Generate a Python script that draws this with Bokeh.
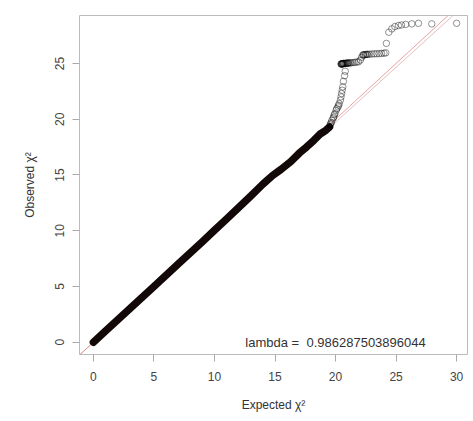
from bokeh.plotting import figure
from bokeh.models import Range1d, FixedTicker, Slope
from bokeh.embed import file_html
from bokeh.resources import INLINE

# ---- data ----
lambda_value = 0.986287503896044

# dense body of the QQ curve (expected, observed)
body_expected = [0.0, 1.0, 3.0, 5.0, 7.0, 9.0, 10.0, 11.0, 12.0, 13.0, 14.0,
                 14.8, 15.5, 16.3, 17.0, 17.6, 18.2, 18.7, 19.2, 19.5]
body_observed = [0.0, 1.0, 3.0, 5.0, 7.02, 9.02, 10.05, 11.05, 12.08, 13.12, 14.18,
                 14.95, 15.5, 16.2, 16.95, 17.5, 18.1, 18.65, 19.0, 19.3]

# individual points in the upper tail
tail_expected = [19.55, 19.6, 19.65, 19.7, 19.8, 19.85, 19.9, 19.95, 20.05, 20.1, 20.2,
                 20.25, 20.3, 20.4, 20.45, 20.5, 20.55, 20.6, 20.65, 20.75, 20.8,
                 20.45, 20.48, 20.5, 20.52, 20.55, 20.58, 20.6, 20.63, 20.65, 20.7,
                 20.75, 20.8, 20.85, 20.9, 20.95, 21.0, 21.05, 21.1,
                 21.2, 21.3, 21.45, 21.6, 21.75, 21.9, 22.05, 22.15,
                 22.25, 22.3, 22.35, 22.45, 22.5, 22.6, 22.65, 22.8, 23.0, 23.2,
                 23.4, 23.6, 23.8, 24.0, 24.15,
                 24.2, 24.4, 24.65, 24.9, 25.2, 25.45, 25.8, 26.3, 26.85, 27.95, 30.0]
tail_observed = [19.5, 19.6, 19.7, 19.9, 20.1, 20.2, 20.4, 20.5, 20.8, 20.95, 21.1,
                 21.25, 21.4, 21.7, 22.0, 22.3, 22.6, 22.9, 23.4, 23.9, 24.3,
                 24.95, 24.95, 24.95, 24.96, 24.97, 24.97, 24.98, 24.99, 25.0, 25.0,
                 25.0, 25.0, 25.01, 25.02, 25.02, 25.03, 25.04, 25.05,
                 25.05, 25.06, 25.08, 25.1, 25.12, 25.15, 25.3, 25.55,
                 25.75, 25.76, 25.78, 25.79, 25.8, 25.81, 25.82, 25.83, 25.85, 25.86,
                 25.87, 25.88, 25.9, 25.92, 25.95,
                 26.8, 27.8, 28.1, 28.3, 28.4, 28.45, 28.5, 28.55, 28.6, 28.55, 28.6]

x_ticks = [0, 5, 10, 15, 20, 25, 30]
y_ticks = [0, 5, 10, 15, 20, 25]

FONT = "Liberation Sans"

p = figure(width=473, height=420, output_backend="svg", toolbar_location=None,
           x_range=Range1d(-1.15, 30.9), y_range=Range1d(-1.1, 29.3),
           min_border_left=79, min_border_right=6, min_border_top=15,
           min_border_bottom=66)

p.grid.visible = False
p.outline_line_color = "#bbbbbb"
p.outline_line_width = 1
p.background_fill_color = "white"
p.border_fill_color = "white"

# reference lines (beneath the points)
p.add_layout(Slope(gradient=lambda_value, y_intercept=0, line_color="#d4b0b0",
                   line_width=1, line_alpha=0.8, level="underlay"))
p.add_layout(Slope(gradient=1, y_intercept=0, line_color="#e58a8a",
                   line_width=1, line_alpha=0.8, level="underlay"))

# dense body drawn as a thick stroke of overlapping points
p.line(body_expected, body_observed, line_color="#120808", line_width=7.5,
       line_cap="round", line_join="round")

# tail points
p.scatter(tail_expected, tail_observed, marker="circle", size=6.5,
          fill_color=None, line_color="black", line_alpha=0.42, line_width=1)

p.text(x=[20], y=[0], text=[f"lambda =\u00a0 {lambda_value}"],
       text_align="center", text_baseline="middle",
       text_font_size="13px", text_color="#333333", text_font={"value": FONT})

for ax, ticks in ((p.xaxis, x_ticks), (p.yaxis, y_ticks)):
    ax.ticker = FixedTicker(ticks=ticks)
    ax.minor_tick_line_color = None
    ax.major_tick_in = 0
    ax.major_tick_out = 7
    ax.major_tick_line_color = "#aaaaaa"
    ax.axis_line_color = None
    ax.major_label_text_font = FONT
    ax.major_label_text_font_size = "12px"
    ax.major_label_text_color = "#444444"
    ax.axis_label_text_font = FONT
    ax.axis_label_text_font_size = "12px"
    ax.axis_label_text_font_style = "normal"
    ax.axis_label_text_color = "#333333"

p.xaxis.axis_label = "Expected χ²"
p.yaxis.axis_label = "Observed χ²"
p.xaxis.major_label_standoff = 10
p.xaxis.axis_label_standoff = 14
p.yaxis.major_label_orientation = "vertical"
p.yaxis.major_label_standoff = 8
p.yaxis.axis_label_standoff = 16

open("out.html", "w").write(file_html(p, INLINE))
